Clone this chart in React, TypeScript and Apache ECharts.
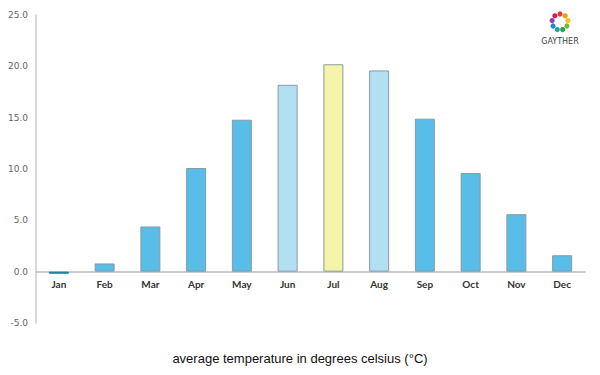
import React, { useEffect, useRef } from "react";
import * as echarts from "echarts";

const months = ["Jan", "Feb", "Mar", "Apr", "May", "Jun", "Jul", "Aug", "Sep", "Oct", "Nov", "Dec"];
const temps = [-0.2, 0.8, 4.4, 10.1, 14.8, 18.2, 20.2, 19.6, 14.9, 9.6, 5.6, 1.6];
const barColors = ["#1b7fa3", "#58bde7", "#58bde7", "#58bde7", "#58bde7", "#b2dff2", "#f3f5a9", "#b2dff2", "#58bde7", "#58bde7", "#58bde7", "#58bde7"];
const title = "average temperature in degrees celsius (°C)";
const logoColors = ["#e53935", "#f39c12", "#f1c40f", "#7cb342", "#2e9e4f", "#26a69a", "#1e88e5", "#8e44ad", "#d81b60"];

export default function App() {
  const ref = useRef<HTMLDivElement>(null);
  useEffect(() => {
    if (!ref.current) return;
    const chart = echarts.init(ref.current, null, { renderer: "svg" });
    const cx = 560, cy = 22, r = 8;
    const logo: any[] = logoColors.map((c, i) => {
      const a = (i / logoColors.length) * Math.PI * 2 - Math.PI / 2;
      return {
        type: "circle",
        shape: { cx: cx + r * Math.cos(a), cy: cy + r * Math.sin(a), r: 2.6 },
        style: { fill: c },
      };
    });
    logo.push({
      type: "text",
      x: cx,
      y: 37,
      style: { text: "GAYTHER", fill: "#444", font: "8px 'DejaVu Sans'", textAlign: "center" },
    });
    chart.setOption({
      animation: false,
      grid: { left: 36, right: 15, top: 15, bottom: 52 },
      title: {
        text: title,
        left: "center",
        top: 347,
        textStyle: { fontFamily: "'Liberation Sans', Arial", fontSize: 13, fontWeight: "normal", color: "#111" },
      },
      xAxis: {
        type: "category",
        data: months,
        axisLine: { onZero: true, lineStyle: { color: "#bbb", width: 1.5 } },
        axisTick: { show: false },
        axisLabel: { color: "#333", fontSize: 10, fontWeight: "bold", fontFamily: "Lato, 'DejaVu Sans'", margin: -44 },
      },
      yAxis: {
        type: "value",
        min: -5,
        max: 25,
        interval: 5,
        axisLine: { show: true, lineStyle: { color: "#ccc", width: 1.5 } },
        axisTick: { show: false },
        splitLine: { show: false },
        axisLabel: {
          color: "#666",
          fontSize: 9,
          fontFamily: "'DejaVu Sans'",
          margin: 8,
          formatter: (v: number) => v.toFixed(1),
        },
      },
      series: [
        {
          type: "bar",
          barWidth: 20,
          data: temps.map((v, i) => ({
            value: v,
            itemStyle: { color: barColors[i], borderColor: i === 0 ? barColors[0] : "#8a9aa3", borderWidth: 1 },
          })),
        },
      ],
      graphic: logo,
    });
    return () => chart.dispose();
  }, []);
  return <div ref={ref} style={{ width: 600, height: 375, position: "absolute", left: 0, top: 0 }} />;
}
